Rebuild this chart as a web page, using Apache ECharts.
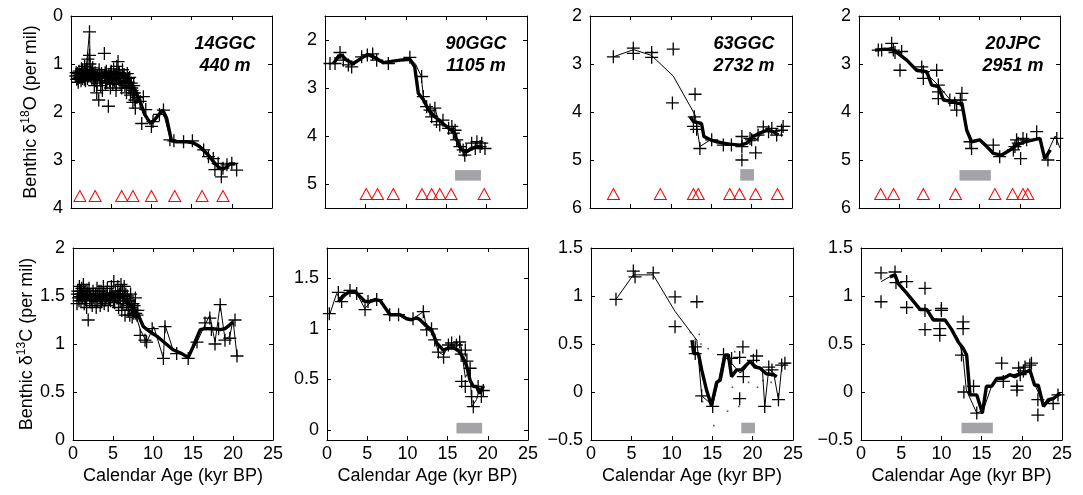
<!DOCTYPE html>
<html><head><meta charset="utf-8">
<script src="https://cdn.jsdelivr.net/npm/echarts@6/dist/echarts.min.js"></script>
<style>html,body{margin:0;padding:0;background:#fff}#c{width:1083px;height:495px}</style>
</head><body><div id="c"></div>
<script>
// ---------------- DATA ----------------
const ageTicks = [0, 5, 10, 15, 20, 25];
const ageRange = [0, 25];

// Core labels
const coreNames = ['14GGC', '90GGC', '63GGC', '20JPC'];
const coreDepths = ['440 m', '1105 m', '2732 m', '2951 m'];

// y-axis ranges and ticks
const d18O_ranges = [[0, 4], [1.5, 5.5], [2, 6], [2, 6]];
const d18O_ticks = [[0, 1, 2, 3, 4], [2, 3, 4, 5], [2, 3, 4, 5, 6], [2, 3, 4, 5, 6]];
const d13C_ranges = [[0, 2], [-0.1, 1.8], [-0.5, 1.5], [-0.5, 1.5]];
const d13C_ticks = [[0, 0.5, 1, 1.5, 2], [0, 0.5, 1, 1.5], [-0.5, 0, 0.5, 1, 1.5], [-0.5, 0, 0.5, 1, 1.5]];

// Radiocarbon-date triangles (age), drawn at a fixed level per core
const tri_14GGC = [1.1, 3.0, 6.3, 7.7, 10.0, 12.9, 16.3, 18.9];
const tri_90GGC = [5.1, 6.5, 8.45, 12.0, 13.2, 14.2, 15.6, 19.7];
const tri_63GGC = [2.9, 8.7, 12.8, 13.4, 17.3, 18.5, 20.5, 23.2];
const tri_20JPC = [2.7, 4.3, 8.0, 12.0, 16.9, 19.1, 20.4, 21.0];
const triLevel = [3.75, 5.21, 5.71, 5.71];

// Grey interval bars [ageStart, ageEnd, yLow, yHigh] (top row δ18O, bottom row δ13C)
const bar_d18O = [null, [16.1, 19.3, 4.71, 4.93], [18.6, 20.3, 5.19, 5.43], [12.5, 16.4, 5.21, 5.43]];
const bar_d13C = [null, [16.1, 19.3, -0.035, 0.07], [18.6, 20.3, -0.43, -0.32], [12.5, 16.4, -0.43, -0.32]];

// ---- 14GGC δ18O ----
const c14GGC_d18O_pts = [[0.6,1.25],[0.7,1.32],[0.8,1.2],[0.9,1.38],[1.0,1.15],[1.1,1.28],[1.2,1.22],[1.3,1.1],[1.4,1.3],[1.5,1.18],[1.6,1.25],[1.7,1.05],[1.8,1.35],[1.9,1.2],[2.0,1.12],[2.1,0.9],[2.2,1.25],[2.3,0.33],[2.3,0.82],[2.35,1.0],[2.5,1.15],[2.6,1.3],[2.7,1.08],[2.8,1.22],[2.9,1.45],[3.0,1.18],[3.1,1.35],[3.2,1.6],[3.3,1.25],[3.45,1.75],[3.5,1.12],[3.6,1.3],[3.7,1.45],[3.8,1.2],[3.9,1.55],[4.15,0.78],[4.2,1.25],[4.3,1.4],[4.4,1.15],[4.5,1.3],[4.65,1.88],[4.7,1.22],[4.8,1.35],[4.9,1.5],[5.0,1.15],[5.1,1.28],[5.2,1.42],[5.3,1.1],[5.4,1.35],[5.5,1.22],[5.6,1.55],[5.7,1.05],[5.85,0.95],[5.9,1.3],[6.0,1.18],[6.1,1.4],[6.2,1.25],[6.3,1.5],[6.4,1.12],[6.5,1.35],[6.6,1.22],[6.7,1.45],[6.8,1.3],[6.9,1.6],[7.0,1.2],[7.1,1.38],[7.2,1.5],[7.3,1.28],[7.4,1.65],[7.5,1.4],[7.6,1.55],[7.7,1.8],[7.8,1.45],[7.9,1.6],[8.0,1.92],[8.2,1.7],[8.6,1.78],[8.8,2.24],[9.0,1.68],[9.3,1.95],[10.0,2.3],[10.2,2.2],[11.0,2.05],[11.5,1.96],[12.3,2.58],[12.8,2.6],[14.0,2.62],[15.1,2.6],[16.5,2.79],[17.1,2.93],[17.7,2.97],[17.9,3.2],[18.3,3.07],[18.7,3.35],[18.9,3.17],[19.4,3.1],[20.0,3.07],[20.6,3.21],
  [0.65,1.18],[0.85,1.3],[1.05,1.24],[1.25,1.35],[1.45,1.12],[1.65,1.32],[1.85,1.15],[2.05,1.3],[2.45,1.25],[2.65,1.18],[2.85,1.32],[3.05,1.28],[3.25,1.4],[3.55,1.22],[3.75,1.35],[3.95,1.28],[4.25,1.18],[4.45,1.38],[4.75,1.3],[4.95,1.2],[5.25,1.32],[5.45,1.25],[5.65,1.42],[5.95,1.2],[6.15,1.3],[6.35,1.38],[6.55,1.28],[6.75,1.36],[6.95,1.4],[7.15,1.3],[7.35,1.45],[7.55,1.5],[7.75,1.6],[7.95,1.75]];
const c14GGC_d18O_thin = [[0.6,1.3],[1.2,1.2],[1.8,1.25],[2.3,0.33],[2.4,1.15],[3.0,1.22],[4.0,1.25],[5.0,1.22],[6.0,1.25],[7.0,1.3],[7.6,1.45],[8.0,1.6],[8.5,1.75],[9.0,2.05],[9.9,2.25],[10.3,2.18],[11.4,1.95],[12.4,2.6],[13.0,2.62],[14.5,2.62],[15.5,2.65],[16.5,2.8],[17.5,3.0],[18.5,3.2],[19.0,3.22],[19.8,3.08],[20.5,3.1]];
const c14GGC_d18O_smooth = [[0.6,1.28],[1.3,1.21],[2.0,1.16],[2.6,1.12],[3.2,1.2],[3.8,1.25],[4.5,1.22],[5.2,1.2],[5.8,1.18],[6.4,1.25],[7.0,1.3],[7.55,1.44],[7.96,1.54],[8.58,1.78],[9.2,2.06],[9.9,2.24],[10.3,2.18],[11.4,1.96],[11.9,2.13],[12.5,2.6],[13.1,2.62],[14.4,2.62],[15.2,2.64],[16.0,2.72],[17.1,2.9],[17.9,3.07],[18.5,3.17],[19.2,3.17],[19.8,3.08],[20.4,3.08]];

// ---- 90GGC δ18O ----
const c90GGC_d18O_pts = [[0.62,2.49],[1.24,2.49],[1.86,2.26],[2.27,2.42],[2.89,2.52],[3.3,2.56],[4.54,2.35],[5.24,2.31],[5.9,2.29],[6.4,2.42],[7.84,2.49],[10.5,2.36],[11.96,2.76],[12.17,3.18],[12.58,3.39],[13.0,3.46],[13.2,3.6],[13.6,3.42],[13.8,3.7],[14.2,3.77],[14.6,3.67],[15.3,3.84],[15.7,3.8],[15.9,3.94],[16.1,3.88],[16.3,4.08],[16.7,4.22],[17.1,4.29],[17.3,4.4],[17.5,4.29],[18.15,4.15],[18.6,4.26],[18.8,4.12],[19.2,4.22],[19.4,4.15],[19.8,4.26]];
const c90GGC_d18O_thin = [[0.4,2.49],[1.0,2.49],[1.6,2.3],[2.2,2.4],[2.8,2.45],[3.4,2.52],[4.3,2.42],[5.2,2.3],[6.0,2.32],[6.6,2.45],[7.8,2.47],[10.5,2.38],[11.2,2.5],[11.9,2.75],[12.2,3.2],[12.7,3.4],[13.2,3.55],[13.6,3.42],[14.0,3.65],[14.6,3.72],[15.3,3.85],[15.8,3.9],[16.2,4.05],[16.6,4.25],[17.0,4.3],[17.3,4.42],[17.7,4.28],[18.1,4.22],[18.6,4.25],[19.1,4.2],[19.6,4.25]];
const c90GGC_d18O_smooth = [[1.03,2.49],[1.65,2.35],[2.06,2.31],[2.68,2.42],[3.5,2.49],[4.33,2.4],[5.24,2.3],[5.98,2.35],[7.2,2.47],[8.0,2.45],[9.3,2.42],[10.5,2.4],[11.1,2.56],[11.55,3.11],[12.2,3.25],[12.8,3.46],[13.6,3.6],[14.6,3.74],[15.3,3.84],[15.9,3.91],[16.3,4.08],[16.9,4.29],[17.5,4.33],[18.2,4.26],[18.8,4.22],[19.5,4.22]];

// ---- 63GGC δ18O ----
const c63GGC_d18O_pts = [[2.89,2.85],[5.36,2.67],[5.36,2.78],[7.63,2.76],[7.63,2.86],[10.3,2.69],[10.2,3.81],[13.0,3.63],[12.9,4.1],[12.8,4.3],[13.2,4.36],[13.6,4.76],[15.06,4.58],[16.5,4.69],[17.5,4.69],[18.8,4.51],[18.8,4.72],[18.8,5.0],[19.8,4.55],[20.0,4.58],[20.5,4.85],[20.8,4.48],[21.45,4.31],[22.1,4.41],[22.5,4.34],[23.1,4.48],[23.7,4.38],[23.9,4.3]];
const c63GGC_d18O_thin = [[2.9,2.85],[5.4,2.7],[7.6,2.82],[10.3,3.25],[13.0,4.06],[13.6,4.72],[14.9,4.58],[16.5,4.66],[18.8,4.7],[19.8,4.6],[20.5,4.6],[21.5,4.4],[22.5,4.4],[23.5,4.4],[24.0,4.3],[24.8,4.3]];
const c63GGC_d18O_smooth = [[12.4,4.1],[12.8,4.2],[13.8,4.24],[14.1,4.51],[14.9,4.58],[15.7,4.62],[16.5,4.65],[17.3,4.67],[18.6,4.69],[19.4,4.65],[20.2,4.51],[21.0,4.44],[21.9,4.38],[22.7,4.41],[23.3,4.48]];

// ---- 20JPC δ18O ----
const c20JPC_d18O_pts = [[2.4,2.71],[2.82,2.71],[4.06,2.57],[4.27,2.71],[4.48,2.76],[5.3,2.74],[5.1,3.13],[7.8,3.06],[8.0,3.16],[8.0,3.3],[9.66,3.13],[9.87,3.44],[9.87,3.58],[9.87,3.72],[11.3,3.75],[11.9,3.82],[12.15,3.96],[12.8,3.61],[12.6,3.75],[13.8,4.62],[14.0,4.76],[16.7,4.69],[17.5,4.93],[19.2,4.79],[19.4,4.72],[19.6,4.58],[19.8,4.65],[20.1,4.97],[20.4,4.55],[20.85,4.58],[22.1,4.41],[23.5,5.0],[24.6,4.55]];
const c20JPC_d18O_thin = [[2.5,2.72],[4.1,2.65],[5.5,2.85],[7.2,3.1],[8.4,3.2],[9.9,3.45],[11.5,3.78],[12.8,3.75],[13.2,4.2],[13.8,4.6],[15.0,4.6],[16.5,4.85],[17.6,4.9],[18.8,4.78],[19.6,4.7],[20.6,4.6],[22.0,4.55],[22.6,4.55],[23.1,4.97],[23.7,4.75],[24.4,4.5],[25.0,4.75]];
const c20JPC_d18O_smooth = [[1.99,2.71],[3.23,2.69],[4.27,2.71],[5.1,2.81],[5.93,2.92],[7.17,3.13],[8.42,3.16],[9.04,3.44],[9.87,3.47],[10.5,3.75],[11.5,3.78],[12.35,3.82],[12.8,3.82],[13.4,4.38],[14.0,4.62],[15.0,4.58],[15.9,4.72],[16.7,4.86],[17.7,4.9],[18.8,4.79],[19.6,4.69],[20.6,4.62],[21.7,4.58],[22.5,4.55],[23.1,4.97],[23.8,4.79]];

// ---- 14GGC δ13C ----
const c14GGC_d13C_pts = [[0.5,1.42],[0.6,1.55],[0.7,1.48],[0.8,1.6],[0.9,1.52],[1.0,1.45],[1.1,1.58],[1.2,1.5],[1.3,1.62],[1.4,1.42],[1.5,1.55],[1.6,1.48],[1.7,1.38],[1.8,1.52],[1.9,1.25],[2.0,1.58],[2.1,1.45],[2.2,1.5],[2.4,1.4],[2.5,1.55],[2.6,1.48],[2.8,1.52],[2.9,1.38],[3.0,1.58],[3.1,1.45],[3.3,1.5],[3.4,1.4],[3.5,1.55],[3.7,1.47],[3.8,1.6],[3.9,1.42],[4.0,1.52],[4.2,1.48],[4.3,1.58],[4.4,1.4],[4.6,1.52],[4.7,1.45],[4.8,1.6],[5.0,1.5],[5.1,1.65],[5.2,1.43],[5.3,1.55],[5.5,1.48],[5.6,1.6],[5.7,1.38],[5.8,1.52],[5.9,1.45],[6.0,1.62],[6.1,1.35],[6.2,1.55],[6.3,1.47],[6.4,1.6],[6.5,1.3],[6.6,1.52],[6.7,1.42],[6.8,1.5],[6.9,1.35],[7.0,1.45],[7.1,1.3],[7.2,1.52],[7.3,1.38],[7.4,1.28],[7.5,1.42],[7.6,1.32],[7.7,1.35],[7.8,1.48],[8.0,1.3],[8.4,1.09],[9.0,1.04],[9.2,1.02],[9.9,1.16],[11.3,0.85],[11.5,1.18],[12.96,0.9],[14.4,0.85],[15.5,1.02],[16.5,1.22],[17.1,1.27],[17.3,1.15],[17.75,1.0],[18.2,1.16],[18.4,1.41],[19.0,1.04],[19.6,1.06],[20.25,1.25],[20.5,0.875],
  [0.55,1.52],[0.75,1.45],[0.95,1.55],[1.15,1.48],[1.35,1.53],[1.55,1.46],[1.75,1.56],[2.05,1.52],[2.3,1.47],[2.55,1.5],[2.75,1.45],[3.05,1.5],[3.25,1.55],[3.55,1.45],[3.75,1.52],[4.05,1.46],[4.25,1.53],[4.55,1.47],[4.85,1.52],[5.05,1.45],[5.35,1.5],[5.65,1.5],[5.95,1.55],[6.25,1.42],[6.45,1.5],[6.75,1.45],[6.95,1.4],[7.25,1.42],[7.45,1.35],[7.65,1.4],[7.85,1.32],[8.1,1.35]];
const c14GGC_d13C_thin = [[0.5,1.48],[2.0,1.5],[4.0,1.5],[6.0,1.5],[7.5,1.4],[8.4,1.15],[9.2,1.02],[10.1,1.18],[11.3,0.85],[11.5,1.2],[12.5,0.94],[13.6,0.9],[14.4,0.86],[15.5,1.02],[16.5,1.2],[17.1,1.3],[17.75,1.02],[18.4,1.41],[19.0,1.05],[19.6,1.08],[20.0,1.25],[20.5,0.875]];
const c14GGC_d13C_smooth = [[0.5,1.5],[1.0,1.52],[1.5,1.5],[2.0,1.48],[2.5,1.5],[3.0,1.47],[3.5,1.5],[4.0,1.49],[4.5,1.52],[5.0,1.53],[5.5,1.5],[6.0,1.52],[6.5,1.45],[7.0,1.42],[7.54,1.37],[8.17,1.3],[8.8,1.18],[9.6,1.13],[10.5,1.08],[11.5,1.01],[12.5,0.94],[13.6,0.9],[14.4,0.86],[15.0,0.97],[15.9,1.15],[16.5,1.16],[17.5,1.16],[18.4,1.15],[19.0,1.16],[19.6,1.2],[20.0,1.23]];

// ---- 90GGC δ13C ----
const c90GGC_d13C_pts = [[0.29,1.15],[1.41,1.36],[1.82,1.27],[2.86,1.38],[3.69,1.35],[4.73,1.19],[5.1,1.27],[6.18,1.29],[7.8,1.14],[8.9,1.14],[10.7,1.1],[11.98,1.17],[12.4,0.99],[13.0,1.0],[13.4,0.89],[13.85,0.77],[14.5,0.72],[15.1,0.84],[15.5,0.86],[16.1,0.84],[16.5,0.87],[16.7,0.75],[17.2,0.79],[17.4,0.68],[16.75,0.48],[17.2,0.43],[17.8,0.61],[18.0,0.33],[18.2,0.23],[18.8,0.43],[19.2,0.33],[19.44,0.39]];
const c90GGC_d13C_thin = [[0.37,1.15],[1.2,1.35],[1.8,1.28],[2.8,1.37],[3.7,1.35],[4.7,1.2],[5.5,1.27],[6.6,1.28],[7.8,1.14],[9.1,1.14],[10.5,1.09],[12.0,1.17],[12.4,1.0],[13.2,0.95],[13.85,0.77],[14.5,0.74],[15.1,0.84],[16.1,0.82],[16.6,0.86],[17.2,0.52],[17.8,0.6],[18.0,0.23],[18.6,0.3],[19.0,0.42],[19.44,0.39]];
const c90GGC_d13C_smooth = [[1.41,1.27],[2.03,1.33],[2.86,1.37],[3.48,1.37],[4.1,1.32],[4.73,1.27],[5.35,1.27],[5.97,1.29],[6.6,1.28],[7.84,1.14],[9.08,1.14],[9.9,1.1],[10.5,1.09],[11.15,1.11],[11.57,1.09],[12.19,1.04],[13.0,0.99],[13.64,0.86],[14.47,0.79],[15.1,0.81],[15.7,0.81],[16.3,0.79],[16.96,0.71],[17.37,0.63],[17.8,0.49],[18.2,0.43],[18.6,0.43],[19.0,0.36],[19.44,0.43]];

// ---- 63GGC δ13C ----
const c63GGC_d13C_pts = [[3.09,0.965],[5.24,1.26],[5.45,1.2],[7.7,1.24],[10.4,0.99],[10.4,0.68],[13.1,0.94],[12.9,0.47],[12.9,0.4],[13.7,-0.04],[15.06,-0.15],[16.4,0.39],[17.4,0.35],[18.4,0.36],[18.8,0.47],[18.4,-0.07],[18.85,0.16],[20.1,0.33],[20.5,0.375],[21.5,-0.15],[22.0,0.26],[22.4,0.23],[23.2,-0.08],[23.6,0.28],[24.0,0.3]];
const c63GGC_d13C_thin = [[3.09,0.965],[5.24,1.22],[7.7,1.22],[10.4,0.84],[13.1,0.54],[13.7,-0.04],[15.06,-0.14],[15.8,0.125],[16.4,0.38],[17.4,0.3],[18.4,0.2],[18.85,0.22],[19.6,0.3],[20.1,0.3],[20.7,0.26],[21.2,0.25],[21.5,-0.15],[22.0,0.24],[22.6,0.2],[23.2,-0.08],[23.6,0.26],[24.0,0.3],[24.6,0.3]];
const c63GGC_d13C_smooth = [[12.5,0.54],[12.7,0.4],[13.3,0.4],[13.7,0.23],[14.3,0.02],[14.9,-0.14],[15.55,0.1],[16.0,0.125],[16.6,0.385],[17.0,0.385],[17.4,0.16],[18.0,0.23],[18.6,0.23],[19.7,0.32],[20.3,0.26],[20.9,0.25],[21.7,0.19],[22.6,0.18],[23.0,0.16]];
const c63GGC_d13C_dots = [[12.3,0.62],[12.9,0.55],[13.6,0.5],[14.5,0.45],[13.8,-0.1],[15.2,-0.35],[16.9,-0.2],[17.5,0.05],[18.3,-0.15],[19.5,0.1],[20.6,0.05],[21.3,0.12],[22.3,0.1],[13.4,0.6],[17.8,0.42]];

// ---- 20JPC δ13C ----
const c20JPC_d13C_pts = [[2.49,1.24],[2.49,0.94],[4.23,1.25],[4.35,1.14],[5.68,1.15],[5.68,0.88],[7.96,1.08],[7.96,0.85],[7.96,0.65],[10.0,0.87],[10.0,0.85],[9.8,0.66],[9.8,0.59],[12.7,0.73],[12.7,0.66],[12.5,0.385],[12.8,0.0],[14.0,0.06],[14.4,-0.22],[17.5,0.3],[17.7,0.11],[19.4,0.06],[19.4,0.02],[19.6,0.25],[19.8,0.18],[20.2,0.22],[20.4,0.26],[21.0,0.28],[21.2,0.3],[22.0,-0.24],[22.0,-0.08],[23.9,-0.12],[24.5,-0.03]];
const c20JPC_d13C_thin = [[2.5,1.15],[4.0,1.22],[5.7,1.03],[7.3,0.87],[8.2,0.85],[9.0,0.76],[10.4,0.75],[11.3,0.66],[12.1,0.55],[12.7,0.37],[13.1,0.02],[14.4,-0.22],[15.2,-0.19],[16.2,0.05],[17.0,0.15],[18.5,0.17],[19.8,0.2],[21.0,0.22],[21.6,0.08],[22.3,-0.05],[22.7,-0.15],[23.9,-0.07],[24.9,-0.03]];
const c20JPC_d13C_smooth = [[3.6,1.2],[4.23,1.22],[4.64,1.13],[5.68,1.03],[7.34,0.86],[8.17,0.86],[9.0,0.75],[10.45,0.75],[11.28,0.65],[12.1,0.52],[12.7,0.455],[13.14,0.385],[13.56,-0.03],[14.4,-0.03],[15.1,-0.22],[15.6,0.06],[16.25,0.06],[16.9,0.14],[17.7,0.14],[18.5,0.18],[19.15,0.16],[19.8,0.19],[20.6,0.21],[21.0,0.23],[21.6,0.07],[22.05,0.07],[22.7,-0.15],[23.3,-0.08],[23.9,-0.07],[24.75,-0.01]];

// ---------------- LAYOUT / STYLE ----------------
const FONT = '"Liberation Sans", Arial, Helvetica, sans-serif';
const grids = [
  {left: 71, top: 16, width: 201, height: 192},
  {left: 325, top: 16, width: 202, height: 192},
  {left: 590, top: 16, width: 202, height: 192},
  {left: 859, top: 16, width: 201, height: 192},
  {left: 73, top: 248, width: 200, height: 192},
  {left: 327, top: 248, width: 201, height: 192},
  {left: 591, top: 248, width: 202, height: 192},
  {left: 861, top: 248, width: 201, height: 192}
];
const labelCenters = [[225, 33], [476, 33], [744, 33], [1013, 33]];

const topPts = [c14GGC_d18O_pts, c90GGC_d18O_pts, c63GGC_d18O_pts, c20JPC_d18O_pts];
const topThin = [c14GGC_d18O_thin, c90GGC_d18O_thin, c63GGC_d18O_thin, c20JPC_d18O_thin];
const topSmooth = [c14GGC_d18O_smooth, c90GGC_d18O_smooth, c63GGC_d18O_smooth, c20JPC_d18O_smooth];
const topTri = [tri_14GGC, tri_90GGC, tri_63GGC, tri_20JPC];
const botPts = [c14GGC_d13C_pts, c90GGC_d13C_pts, c63GGC_d13C_pts, c20JPC_d13C_pts];
const botThin = [c14GGC_d13C_thin, c90GGC_d13C_thin, c63GGC_d13C_thin, c20JPC_d13C_thin];
const botSmooth = [c14GGC_d13C_smooth, c90GGC_d13C_smooth, c63GGC_d13C_smooth, c20JPC_d13C_smooth];
const botDots = [[], [], c63GGC_d13C_dots, []];

const CROSS = 'path://M4.5,0h1v10h-1zM0,4.5h10v1h-10z';
const fmt = v => (v < 0 ? '\u2212' : '') + Math.abs(v);

const xAxes = [], yAxes = [], series = [], graphics = [];
const axLine = {show: true, onZero: false, lineStyle: {color: '#000', width: 1}};
const axTick = {show: true, inside: true, length: 4, lineStyle: {color: '#000', width: 1}};

for (let g = 0; g < 8; g++) {
  const row = g < 4 ? 0 : 1, col = g % 4;
  const range = row === 0 ? d18O_ranges[col] : d13C_ranges[col];
  const ticks = row === 0 ? d18O_ticks[col] : d13C_ticks[col];
  const isBottom = row === 1;
  xAxes.push({type: 'value', gridIndex: g, position: 'bottom', min: ageRange[0], max: ageRange[1], interval: 5,
    axisLine: axLine, axisTick: axTick, splitLine: {show: false},
    axisLabel: {show: isBottom, color: '#000', fontSize: 18, fontFamily: FONT, margin: 5, formatter: fmt},
    name: isBottom ? 'Calendar Age (kyr BP)' : '', nameLocation: 'middle', nameGap: 27,
    nameTextStyle: {color: '#000', fontSize: 18, fontFamily: FONT}});
  xAxes.push({type: 'value', gridIndex: g, position: 'top', min: ageRange[0], max: ageRange[1], interval: 5,
    axisLine: axLine, axisTick: axTick, splitLine: {show: false}, axisLabel: {show: false}});
  const yName = col === 0 ? (row === 0 ? '{t|Benthic \u03b4}{s|18}{t|O (per mil)}' : '{t|Benthic \u03b4}{s|13}{t|C (per mil)}') : '';
  yAxes.push({type: 'value', gridIndex: g, position: 'left', min: range[0], max: range[1], inverse: row === 0,
    axisLine: axLine, axisTick: Object.assign({}, axTick, {customValues: ticks}), splitLine: {show: false},
    axisLabel: {color: '#000', fontSize: 18, fontFamily: FONT, margin: 8, customValues: ticks, formatter: fmt},
    name: yName, nameLocation: 'middle', nameRotate: 90, nameGap: row === 0 ? 29 : 31,
    nameTextStyle: {color: '#000', fontSize: 18, fontFamily: FONT,
      rich: {t: {fontSize: 18, fontFamily: FONT, color: '#000', lineHeight: 22},
             s: {fontSize: 12, fontFamily: FONT, color: '#000', lineHeight: 10, verticalAlign: 'top'}}}});
  yAxes.push({type: 'value', gridIndex: g, position: 'right', min: range[0], max: range[1], inverse: row === 0,
    axisLine: axLine, axisTick: Object.assign({}, axTick, {customValues: ticks}), splitLine: {show: false},
    axisLabel: {show: false}});

  const xi = 2 * g, yi = 2 * g;
  const pts = row === 0 ? topPts[col] : botPts[col];
  const thin = row === 0 ? topThin[col] : botThin[col];
  const smooth = row === 0 ? topSmooth[col] : botSmooth[col];
  const bar = row === 0 ? bar_d18O[col] : bar_d13C[col];

  if (row === 1 && botDots[col].length) {
    series.push({type: 'scatter', xAxisIndex: xi, yAxisIndex: yi, data: botDots[col], symbol: 'rect', symbolSize: 1.6,
      itemStyle: {color: '#555', opacity: 1}, silent: true, z: 2});
  }
  series.push({type: 'scatter', xAxisIndex: xi, yAxisIndex: yi, data: pts, symbol: CROSS, symbolSize: 13,
    itemStyle: {color: '#000', opacity: 1}, silent: true, z: 3,
    markArea: bar ? {silent: true, itemStyle: {color: '#a3a3a8', opacity: 1},
      data: [[{coord: [bar[0], bar[2]]}, {coord: [bar[1], bar[3]]}]]} : undefined});
  series.push({type: 'line', xAxisIndex: xi, yAxisIndex: yi, data: thin, showSymbol: false, symbol: 'none',
    lineStyle: {color: '#000', width: 1}, silent: true, z: 4});
  series.push({type: 'line', xAxisIndex: xi, yAxisIndex: yi, data: smooth, showSymbol: false, symbol: 'none',
    lineStyle: {color: '#000', width: 3.4}, silent: true, z: 5});
  if (row === 0) {
    series.push({type: 'scatter', xAxisIndex: xi, yAxisIndex: yi,
      data: topTri[col].map(a => [a, triLevel[col]]), symbol: 'triangle', symbolSize: [12, 11],
      itemStyle: {color: 'rgba(0,0,0,0)', borderColor: '#ff0000', borderWidth: 1, opacity: 1}, silent: true, z: 6});
    graphics.push({type: 'text', x: labelCenters[col][0], y: labelCenters[col][1], z: 10,
      style: {text: coreNames[col] + '\n' + coreDepths[col], textAlign: 'center', fill: '#000',
        fontSize: 18, fontWeight: 'bold', fontStyle: 'italic', fontFamily: FONT, lineHeight: 22}});
  }
}

const chart = echarts.init(document.getElementById('c'), null, {renderer: 'canvas'});
chart.setOption({
  animation: false,
  backgroundColor: '#fff',
  grid: grids.map(g => Object.assign({containLabel: false}, g)),
  xAxis: xAxes, yAxis: yAxes, series: series, graphic: graphics
});
</script></body></html>
